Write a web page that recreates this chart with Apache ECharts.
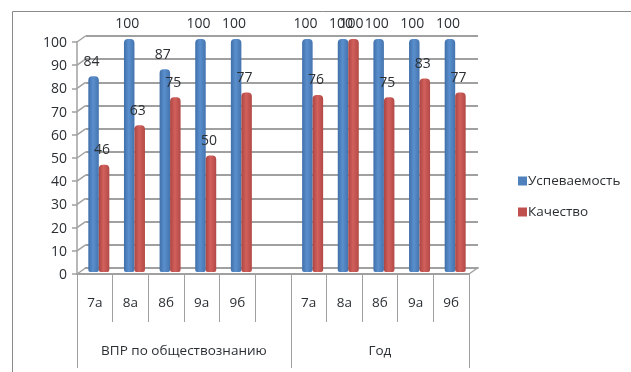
<!DOCTYPE html>
<html><head><meta charset="utf-8">
<style>html,body{margin:0;padding:0;background:#fff}#c{width:631px;height:372px}</style>
<script src="https://cdn.jsdelivr.net/npm/echarts@6/dist/echarts.min.js"></script>
</head><body><div id="c"></div>
<script>
const categories = ['7а','8а','8б','9а','9б','','7а','8а','8б','9а','9б'];
const groupLabels = ['ВПР по обществознанию','Год'];
const groupCenters = [3, 8.5];
const groupEdges = [0, 6, 11];
const uspevaemost = [84,100,87,100,100,null,100,100,100,100,100];
const kachestvo = [46,63,75,50,77,null,76,100,75,83,77];
const valueTicks = [0,10,20,30,40,50,60,70,80,90,100];

const FONT = '"Open Sans", sans-serif';
const GREY = '#a0a0a0';
const txt = '#2b2f33';
const depthX = 8.5, depthY = 6;

function cyl(edge, mid, light) {
  return {type:'linear',x:0,y:0,x2:1,y2:0,colorStops:[
    {offset:0,color:edge},{offset:0.45,color:light},{offset:1,color:mid}]};
}
function barSeries(name, data, fill) {
  return {
    name, type:'bar', data, xAxisIndex:3, yAxisIndex:2,
    barWidth:10.5, barGap:'0%', z:5,
    itemStyle:{color:fill, borderRadius:[4,4,2,2]},
    label:{show:true, position:'top', distance:7.5, offset:[-2,0],
      color:txt, fontFamily:FONT, fontSize:14}
  };
}
const chart = echarts.init(document.getElementById('c'), null, {renderer:'canvas'});
chart.setOption({
  animation:false,
  backgroundColor:'#fff',
  graphic:[{type:'rect', shape:{x:12.5,y:11.5,width:700,height:500}, silent:true, z:0,
    style:{fill:'none', stroke:'#8a8a8a', lineWidth:1}}],
  legend:{
    orient:'vertical', left:513, top:169, itemWidth:9, itemHeight:9, itemGap:17, icon:'rect',
    textStyle:{color:txt, fontFamily:FONT, fontSize:13.5, padding:[0,0,0,-4]},
    data:[{name:'Успеваемость', itemStyle:{color:'#4F81BD'}},{name:'Качество', itemStyle:{color:'#C0504D'}}]
  },
  grid:[
    {left:77, right:162, top:42, bottom:98},
    {left:85.5, right:153, top:36, bottom:104},
    {left:81, right:158, top:39, bottom:100}
  ],
  xAxis:[
    {type:'category', gridIndex:0, data:categories, position:'bottom',
      axisLine:{lineStyle:{color:GREY,width:2}},
      axisTick:{show:true, alignWithLabel:false, interval:0, length:48, lineStyle:{color:GREY}},
      axisLabel:{interval:0, margin:22, color:txt, fontFamily:FONT, fontSize:13.5},
      splitLine:{show:false}},
    {type:'value', gridIndex:0, min:0, max:11, position:'bottom',
      axisLine:{show:false},
      axisTick:{show:true, customValues:groupEdges, length:94, lineStyle:{color:GREY}},
      axisLabel:{show:true, customValues:groupCenters, margin:70, color:txt, fontFamily:FONT, fontSize:13.5,
        formatter:v=>groupLabels[groupCenters.indexOf(v)]},
      splitLine:{show:false}},
    {type:'category', gridIndex:1, data:categories, axisLine:{lineStyle:{color:GREY,width:1.8}},
      axisTick:{show:false}, axisLabel:{show:false}},
    {type:'category', gridIndex:2, data:categories, axisLine:{show:false},
      axisTick:{show:false}, axisLabel:{show:false}}
  ],
  yAxis:[
    {type:'value', gridIndex:0, min:0, max:100, interval:10,
      axisLine:{show:true, lineStyle:{color:GREY,width:1.5}},
      axisTick:{show:true, length:5, lineStyle:{color:GREY,width:1.5}},
      axisLabel:{margin:10, color:txt, fontFamily:FONT, fontSize:14, verticalAlign:'top', lineHeight:2},
      splitLine:{show:false}},
    {type:'value', gridIndex:1, min:0, max:100, interval:10,
      axisLine:{show:false}, axisTick:{show:false}, axisLabel:{show:false},
      splitLine:{show:true, lineStyle:{color:GREY,width:1.8}}},
    {type:'value', gridIndex:2, min:0, max:100, interval:10,
      axisLine:{show:false}, axisTick:{show:false}, axisLabel:{show:false}, splitLine:{show:false}}
  ],
  series:[
    barSeries('Успеваемость', uspevaemost, cyl('#3f6fa9','#4474ae','#5a8fcd')),
    barSeries('Качество', kachestvo, cyl('#ab4542','#b24946','#d2605c')),
    {type:'custom', xAxisIndex:1, yAxisIndex:0, silent:true, z:1, clip:false,
      legendHoverLink:false,
      data:valueTicks.map(v=>[0,v]).concat([[11,0]]),
      renderItem:(p,api)=>{
        const c = api.coord([api.value(0),api.value(1)]);
        return {type:'line', shape:{x1:c[0],y1:c[1],x2:c[0]+depthX,y2:c[1]-depthY},
          style:{stroke:GREY,lineWidth:1.5}};
      }}
  ]
});
</script></body></html>
